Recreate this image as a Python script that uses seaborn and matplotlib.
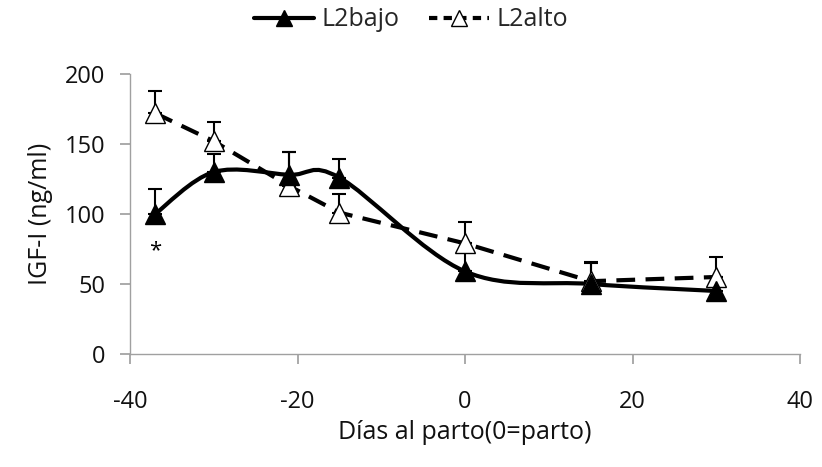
import numpy as np
import pandas as pd
import matplotlib
matplotlib.use("Agg")
import matplotlib.pyplot as plt
from matplotlib.path import Path
from matplotlib.patches import PathPatch
from matplotlib.lines import Line2D
import seaborn as sns

# Data
dias = [-37, -30, -21, -15, 0, 15, 30]
l2bajo = [100, 130, 128, 126, 59, 50, 45]
l2bajo_err = [18, 13, 16, 13, 14, 16, 10]
l2alto = [172, 152, 120, 101, 79, 52, 55]
l2alto_err = [16, 14, 24, 13, 15, 13, 14]
series_names = ["L2bajo", "L2alto"]

sns.set_theme(style="white")
plt.rcParams["font.family"] = ["Open Sans", "DejaVu Sans"]
plt.rcParams["axes.unicode_minus"] = False

fig = plt.figure(figsize=(8.22, 4.67), dpi=100)
ax = fig.add_axes([130/822, 1-354/467, 670/822, 280/467])

df = pd.DataFrame({"dias": dias, "bajo": l2bajo, "alto": l2alto})

# Error bars (plus only)
ax.errorbar(dias, l2alto, yerr=[np.zeros(len(dias)), l2alto_err], fmt="none",
            ecolor="black", elinewidth=1.5, capsize=5, capthick=1.5, zorder=3)
ax.errorbar(dias, l2bajo, yerr=[np.zeros(len(dias)), l2bajo_err], fmt="none",
            ecolor="black", elinewidth=1.5, capsize=5, capthick=1.5, zorder=3)

# L2alto dashed line
sns.lineplot(data=df, x="dias", y="alto", ax=ax, color="black", lw=3,
             linestyle=(0, (4.5, 2.5)), zorder=2)

# L2bajo smoothed line (Bezier path through data points)
P = np.column_stack([dias, l2bajo]).astype(float)
verts = [tuple(P[0])]
codes = [Path.MOVETO]
n = len(P)
for i in range(n - 1):
    p0 = P[i - 1] if i > 0 else P[i]
    p1 = P[i]
    p2 = P[i + 1]
    p3 = P[i + 2] if i + 2 < n else P[i + 1]
    c1 = p1 + (p2 - p0) / 6.0
    c2 = p2 - (p3 - p1) / 6.0
    verts += [tuple(c1), tuple(c2), tuple(p2)]
    codes += [Path.CURVE4] * 3
ax.add_patch(PathPatch(Path(verts, codes), facecolor="none", edgecolor="black",
                       lw=3, zorder=2))

# Markers
ax.plot(dias, l2alto, linestyle="none", marker="^", markersize=14,
        markerfacecolor="white", markeredgecolor="black", markeredgewidth=1, zorder=4)
ax.plot(dias, l2bajo, linestyle="none", marker="^", markersize=14,
        markerfacecolor="black", markeredgecolor="black", zorder=5)

ax.text(-37, 74, "*", ha="center", va="center", fontsize=16, color="black")

ax.set_xlim(-40, 40)
ax.set_ylim(0, 200)
ax.set_xticks([-40, -20, 0, 20, 40])
ax.set_yticks([0, 50, 100, 150, 200])
for s in ["top", "right"]:
    ax.spines[s].set_visible(False)
for s in ["left", "bottom"]:
    ax.spines[s].set_color("#a0a0a0")
    ax.spines[s].set_linewidth(1)
ax.tick_params(axis="both", direction="out", length=7, color="#a0a0a0",
               labelsize=17, labelcolor="#111111", left=True, bottom=True)
ax.tick_params(axis="x", pad=19)
ax.tick_params(axis="y", pad=11)
ax.set_xlabel("Días al parto(0=parto)", fontsize=18, labelpad=4, color="#111111")
ax.set_ylabel("IGF-I (ng/ml)", fontsize=18, labelpad=8, color="#111111")

handles = [
    Line2D([0], [0], color="black", lw=3, marker="^", markersize=11,
           markerfacecolor="black", markeredgecolor="black"),
    Line2D([0], [0], color="black", lw=3, linestyle=(0, (2, 1.5)), marker="^",
           markersize=11, markerfacecolor="white", markeredgecolor="black",
           markeredgewidth=1),
]
leg = fig.legend(handles, series_names, loc="center", ncol=2, frameon=False,
                 fontsize=18, handlelength=2.4, handletextpad=0.3, columnspacing=1.2,
                 bbox_to_anchor=(0.5, 1 - 20/467), bbox_transform=fig.transFigure)

fig.savefig("out.png", dpi=100)
